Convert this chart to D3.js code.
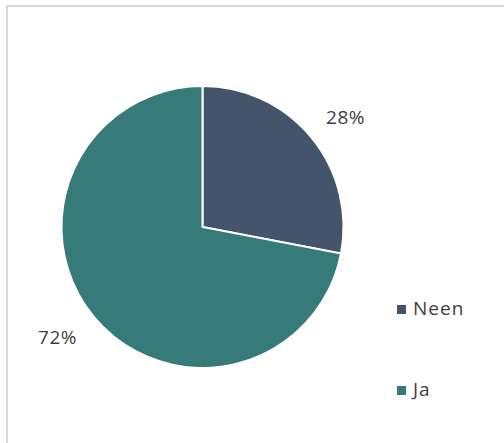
<!DOCTYPE html>
<html><head><meta charset="utf-8">
<script src="https://cdn.jsdelivr.net/npm/d3@7"></script>
<style>html,body{margin:0;padding:0;background:#fff;overflow:hidden}</style>
</head><body>
<svg id="c" width="504" height="443"></svg>
<script>
const categories = ["Neen", "Ja"];
const values = [28, 72];
const labels = ["28%", "72%"];
const colors = ["#44546A", "#367A7A"];

const svg = d3.select("#c");
svg.append("rect").attr("x", 7).attr("y", 6).attr("width", 520).attr("height", 460)
  .attr("fill", "#fff").attr("stroke", "#d9d9d9").attr("stroke-width", 2);

const cx = 202.5, cy = 227, r = 141;
const pie = d3.pie().sort(null).value(d => d)(values);
const arc = d3.arc().innerRadius(0).outerRadius(r);
const g = svg.append("g").attr("transform", `translate(${cx},${cy})`);
g.selectAll("path").data(pie).join("path")
  .attr("d", arc).attr("fill", (d, i) => colors[i])
  .attr("stroke", "#fff").attr("stroke-width", 2).attr("stroke-linejoin", "miter");

const font = "'Open Sans', sans-serif";
const labelPos = [[345.5, 124], [57.5, 344]];
svg.selectAll("text.lbl").data(pie).join("text").attr("class", "lbl")
  .attr("x", (d, i) => labelPos[i][0]).attr("y", (d, i) => labelPos[i][1])
  .attr("text-anchor", "middle")
  .attr("font-family", font).attr("font-size", 19).attr("letter-spacing", 0.5)
  .attr("fill", "#404040").text((d, i) => labels[i]);

const leg = svg.append("g");
const legY = [315, 396];
categories.forEach((c, i) => {
  leg.append("rect").attr("x", 397).attr("y", legY[i] - 10).attr("width", 9).attr("height", 9).attr("fill", colors[i]);
  leg.append("text").attr("x", 413).attr("y", legY[i])
    .attr("font-family", font).attr("font-size", 19).attr("letter-spacing", 1)
    .attr("fill", "#404040").text(c);
});
</script>
</body></html>
